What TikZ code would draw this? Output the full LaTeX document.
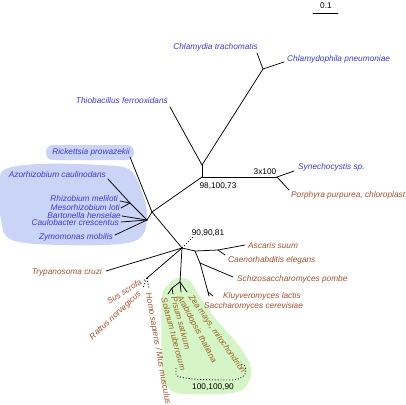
\documentclass[tikz,border=0pt]{standalone}
\usepackage{fontspec}
\setmainfont{Liberation Sans}
\definecolor{tblue}{RGB}{58,58,210}
\definecolor{tbrown}{RGB}{165,82,45}
\definecolor{tolive}{RGB}{150,95,30}
\definecolor{bblue}{RGB}{202,212,247}
\definecolor{bgreen}{RGB}{214,245,198}
\begin{document}
\begin{tikzpicture}[x=1pt,y=-1pt,
  br/.style={line width=0.75pt, line cap=round},
  dt/.style={line width=0.9pt, dotted},
  lb/.style={font=\fontsize{8.3}{10}\selectfont\itshape, inner sep=0pt},
  bl/.style={lb, text=tblue},
  bn/.style={lb, text=tbrown},
  bo/.style={lb, text=tolive},
  num/.style={font=\fontsize{8.3}{10}\selectfont, inner sep=0pt}]
\path[use as bounding box] (0,0) rectangle (406,404);
% bubbles
\fill[bblue, rounded corners=7pt] (46,145) rectangle (134,160);
\fill[bblue] plot[smooth cycle, tension=0.6] coordinates {(4,170) (40,164) (100,165) (130,170) (143,195) (147,215) (142,236) (120,244) (60,245) (12,240) (1,220) (0,190)};
\fill[bgreen] plot[smooth cycle, tension=0.6] coordinates {(178,278) (190,281) (200,297) (215,318) (240,347) (251,368) (247,385) (232,393) (185,394) (168,388) (162,372) (162,300) (168,285)};
% scale bar
\node[num] (scl) at (326,6) {0.1};
\coordinate (sb1) at (313,13); \coordinate (sb2) at (338,13);
\draw[br] (sb1) -- (sb2);
% internal nodes
\coordinate (R1) at (202,177);
\coordinate (R2) at (202,165);
\coordinate (Ch) at (263,69);
\coordinate (S) at (277,177);
\coordinate (A) at (152,212);
\coordinate (B) at (147,220);
\coordinate (Rh) at (130,203);
\coordinate (C) at (182,248);
\coordinate (M) at (147,278);
\coordinate (P) at (180,282);
\coordinate (Q) at (172,288);
\coordinate (D) at (195,251);
\coordinate (E) at (218,250);
\coordinate (F) at (200,263);
\coordinate (G) at (208,292);
% tips
\coordinate (tChT) at (257,53);
\coordinate (tChP) at (284,62);
\coordinate (tThi) at (170,107);
\coordinate (tSyn) at (294,171);
\coordinate (tPor) at (289,190);
\coordinate (tRic) at (130,157);
\coordinate (tAzo) at (108,179);
\coordinate (tRhi) at (120,201);
\coordinate (tMes) at (121,208);
\coordinate (tBar) at (122,216);
\coordinate (tCau) at (121,222);
\coordinate (tZym) at (115,235);
\coordinate (t90) at (193,237);
\coordinate (tTry) at (106,271);
\coordinate (tSus) at (143,281);
\coordinate (tRat) at (143,288);
\coordinate (tHom) at (149,289);
\coordinate (tSol) at (168,294);
\coordinate (tPis) at (173,294);
\coordinate (tAra) at (181,292);
\coordinate (tZea) at (187,292);
\coordinate (tAsc) at (245,245);
\coordinate (tCae) at (225,255);
\coordinate (tSch) at (233,277);
\coordinate (tKlu) at (213,296);
\coordinate (tSac) at (209,296);
\coordinate (bk1) at (176,368);
\coordinate (bk2) at (241,364);
% branches
\draw[br] (R1) -- (R2);
\draw[br] (R2) -- (Ch);
\draw[br] (Ch) -- (tChT);
\draw[br] (Ch) -- (tChP);
\draw[br] (R2) -- (tThi);
\draw[br] (R1) -- (S);
\draw[br] (S) -- (tSyn);
\draw[br] (S) -- (tPor);
\draw[br] (R1) -- (A);
\draw[br] (A) -- (tRic);
\draw[br] (A) -- (B);
\draw[br] (B) -- (Rh) -- (tAzo);
\draw[br] (Rh) -- (tRhi);
\draw[br] (Rh) -- (tMes);
\draw[br] (B) -- (tBar);
\draw[br] (B) -- (tCau);
\draw[br] (B) -- (tZym);
\draw[br] (A) -- (C);
\draw[dt] (C) -- (t90);
\draw[br] (C) -- (tTry);
\draw[br] (C) -- (M);
\draw[dt] (M) -- (tSus);
\draw[dt] (M) -- (tRat);
\draw[dt] (M) -- (tHom);
\draw[br] (C) -- (P);
\draw[br] (P) -- (Q);
\draw[br] (Q) -- (tSol);
\draw[br] (Q) -- (tPis);
\draw[br] (P) -- (tAra);
\draw[br] (P) -- (tZea);
\draw[br] (C) -- (D) -- (E);
\draw[br] (E) -- (tAsc);
\draw[br] (E) -- (tCae);
\draw[br] (D) -- (F);
\draw[br] (F) -- (tSch);
\draw[br] (F) -- (G);
\draw[br] (G) -- (tKlu);
\draw[br] (G) -- (tSac);
\draw[dt] (bk1) -- (176,375) .. controls (180,379) and (200,380) .. (232,380) .. controls (240,380) and (246,376) .. (246,370) -- (245,366) -- (bk2);
% labels
\node[bl, anchor=east] (lChT) at (258,47) {Chlamydia trachomatis};
\node[bl, anchor=west] (lChP) at (287,59) {Chlamydophila pneumoniae};
\node[bl, anchor=east] (lThi) at (168,101) {Thiobacillus ferrooxidans};
\node[bl, anchor=west] (lSyn) at (298,167) {Synechocystis sp.};
\node[bn, anchor=west] (lPor) at (291,195) {Porphyra purpurea, chloroplast};
\node[num] (n3x) at (265,172) {3x100};
\node[num] (n98) at (218,186) {98,100,73};
\node[bl, anchor=east] (lRic) at (130,152) {Rickettsia prowazekii};
\node[bl, anchor=east] (lAzo) at (106,175) {Azorhizobium caulinodans};
\node[bl, anchor=east] (lRhi) at (118,199) {Rhizobium meliloti};
\node[bl, anchor=east] (lMes) at (120,208) {Mesorhizobium loti};
\node[bl, anchor=east] (lBar) at (121,216) {Bartonella henselae};
\node[bl, anchor=east] (lCau) at (119,223) {Caulobacter crescentus};
\node[bl, anchor=east] (lZym) at (113,237) {Zymomonas mobilis};
\node[num] (n90) at (208,233) {90,90,81};
\node[bn, anchor=west] (lAsc) at (248,246) {Ascaris suum};
\node[bn, anchor=west] (lCae) at (228,260) {Caenorhabditis elegans};
\node[bn, anchor=west] (lSch) at (237,279) {Schizosaccharomyces pombe};
\node[bn, anchor=west] (lKlu) at (223,296) {Kluyveromyces lactis};
\node[bn, anchor=west] (lSac) at (204,306) {Saccharomyces cerevisiae};
\node[bn, anchor=east] (lTry) at (102,272) {Trypanosoma cruzi};
\node[bn, anchor=east, rotate=32] (lSus) at (141,281) {Sus scrofa};
\node[bn, anchor=east, rotate=43] (lRat) at (140,293) {Rattus norvegicus};
\node[bn, anchor=west, rotate=-80] (lHom) at (148,293) {Homo sapiens / Mus musculus};
\node[bo, anchor=west, rotate=-75] (lSol) at (164,298) {Solanum tuberosum};
\node[bo, anchor=west, rotate=-75] (lPis) at (174,297) {Pisum sativum};
\node[bo, anchor=west, rotate=-62] (lAra) at (179,296) {Arabidopsis thaliana};
\node[bo, anchor=west, rotate=-55] (lZea) at (190,296) {Zea mays, mitochondrion};
\node[num] (n100) at (213,387) {100,100,90};
\end{tikzpicture}
\end{document}
